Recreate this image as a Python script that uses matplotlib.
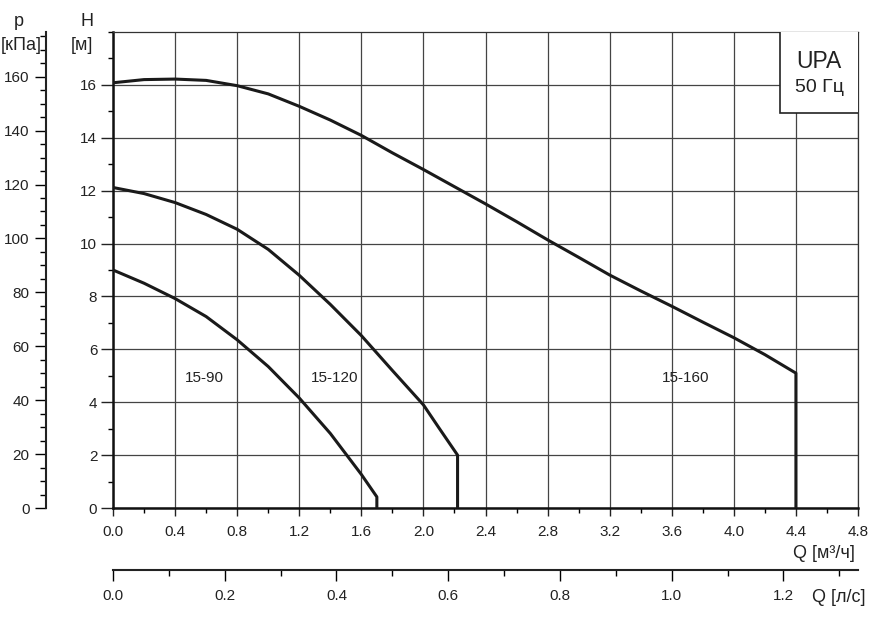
import matplotlib
matplotlib.use("Agg")
import matplotlib.pyplot as plt
from matplotlib.ticker import MultipleLocator, FormatStrFormatter
from matplotlib.patches import Rectangle

plt.rcParams['font.family'] = ['Liberation Sans', 'DejaVu Sans']

# pump curves, Q in m3/h, H in m
q_90 = [0.0, 0.2, 0.4, 0.6, 0.8, 1.0, 1.2, 1.4, 1.6, 1.70, 1.70]
h_90 = [9.0, 8.5, 7.92, 7.24, 6.36, 5.35, 4.16, 2.82, 1.27, 0.42, 0.0]

q_120 = [0.0, 0.2, 0.4, 0.6, 0.8, 1.0, 1.2, 1.4, 1.6, 1.8, 2.0, 2.1, 2.22, 2.22]
h_120 = [12.12, 11.89, 11.55, 11.1, 10.54, 9.78, 8.8, 7.7, 6.52, 5.2, 3.9, 3.03, 2.0, 0.0]

q_160 = [0.0, 0.2, 0.4, 0.6, 0.8, 1.0, 1.2, 1.4, 1.6, 1.8, 2.0, 2.2, 2.4, 2.6,
         2.8, 3.0, 3.2, 3.4, 3.6, 3.8, 4.0, 4.2, 4.4, 4.4]
h_160 = [16.08, 16.2, 16.22, 16.17, 15.97, 15.66, 15.19, 14.67, 14.09, 13.43, 12.8,
         12.15, 11.5, 10.83, 10.14, 9.48, 8.81, 8.21, 7.63, 7.03, 6.44, 5.8, 5.1, 0.0]

curve_names = ["15-90", "15-120", "15-160"]
label_q = [0.59, 1.43, 3.69]
label_h = [4.9, 4.9, 4.9]

kpa_per_m = 9.81
m3h_per_ls = 3.6

W, H = 888, 631


def fx(px):
    return px / W


def fy(py):
    return 1 - py / H


fig = plt.figure(figsize=(W / 100, H / 100), dpi=100)
ax = fig.add_axes([fx(113), fy(508), 745 / W, 476 / H])
ax.set_xlim(0, 4.8)
ax.set_ylim(0, 18)

ax.xaxis.set_major_locator(MultipleLocator(0.4))
ax.xaxis.set_minor_locator(MultipleLocator(0.2))
ax.xaxis.set_major_formatter(FormatStrFormatter('%.1f'))
ax.yaxis.set_minor_locator(MultipleLocator(1))
ax.set_yticks(range(0, 17, 2))
ax.tick_params(axis='both', which='major', direction='out', labelsize=11,
               width=1.0, color='#222222', labelcolor='#222222')
ax.tick_params(axis='y', which='major', length=8.3, pad=3.0)
ax.tick_params(axis='y', which='minor', length=3.8, width=1.0)
ax.tick_params(axis='x', which='major', length=6, pad=6.0)
ax.tick_params(axis='x', which='minor', length=3.6, width=1.0)
ax.grid(True, which='major', color='#444444', linewidth=0.9)
for s in ['top', 'right']:
    ax.spines[s].set_linewidth(0.9)
    ax.spines[s].set_color('#333333')
for s in ['left', 'bottom']:
    ax.spines[s].set_linewidth(1.8)
    ax.spines[s].set_color('#111111')

for q, h in [(q_90, h_90), (q_120, h_120), (q_160, h_160)]:
    ax.plot(q, h, color='#1a1a1a', linewidth=2.2, solid_joinstyle='round', zorder=3)
for name, x, y in zip(curve_names, label_q, label_h):
    ax.text(x, y, name, fontsize=11, ha='center', va='center', color='#222222', zorder=4)

# UPA box in the top right corner
box = Rectangle((4.298, 14.95), 0.6, 3.2, facecolor='white', edgecolor='#222222',
                linewidth=1.2, zorder=5, clip_on=True)
ax.add_patch(box)
ax.text(4.545, 16.88, "UPA", fontsize=16.5, ha='center', va='center', zorder=6, color='#222222')
ax.text(4.55, 15.92, "50 Гц", fontsize=14, ha='center', va='center', zorder=6, color='#222222')

# pressure axis
pax = ax.twinx()
pax.set_ylim(0, 18 * kpa_per_m)
pax.yaxis.set_ticks_position('left')
pax.spines['left'].set_position(('axes', (45.5 - 113) / 745))
pax.spines['left'].set_visible(True)
pax.spines['left'].set_linewidth(1.5)
pax.spines['left'].set_color('#222222')
for s in ['right', 'top', 'bottom']:
    pax.spines[s].set_visible(False)
pax.set_yticks(range(0, 161, 20))
pax.yaxis.set_minor_locator(MultipleLocator(5))
pax.tick_params(axis='y', which='major', length=8, width=1.0, labelsize=11, pad=3.4,
                labelcolor='#222222')
pax.tick_params(axis='y', which='minor', length=4, width=1.0)

# flow axis in l/s
qax = ax.twiny()
qax.set_xlim(0, 4.8 / m3h_per_ls)
qax.xaxis.set_ticks_position('bottom')
qax.spines['bottom'].set_position(('axes', -(570 - 508) / 476))
qax.spines['bottom'].set_visible(True)
qax.spines['bottom'].set_linewidth(1.5)
qax.spines['bottom'].set_color('#222222')
for s in ['left', 'right', 'top']:
    qax.spines[s].set_visible(False)
qax.xaxis.set_major_locator(MultipleLocator(0.2))
qax.xaxis.set_minor_locator(MultipleLocator(0.1))
qax.xaxis.set_major_formatter(FormatStrFormatter('%.1f'))
qax.tick_params(axis='x', which='major', length=8, width=1.0, labelsize=11, pad=5.5,
                labelcolor='#222222')
qax.tick_params(axis='x', which='minor', length=4.3, width=1.0)

# axis titles
fig.text(fx(19), fy(21), "p", fontsize=13, ha='center', va='center', color='#222222')
fig.text(fx(42), fy(45), "[кПа]", fontsize=13, ha='right', va='center', color='#222222')
fig.text(fx(86.5), fy(22), "H", fontsize=13, ha='center', va='center', color='#222222')
fig.text(fx(81.5), fy(45), "[м]", fontsize=13, ha='center', va='center', color='#222222')
fig.text(fx(855), fy(553), "Q [м³/ч]", fontsize=13, ha='right', va='center', color='#222222')
fig.text(fx(865), fy(598), "Q [л/с]", fontsize=13, ha='right', va='center', color='#222222')

fig.savefig("out.png", dpi=100)
